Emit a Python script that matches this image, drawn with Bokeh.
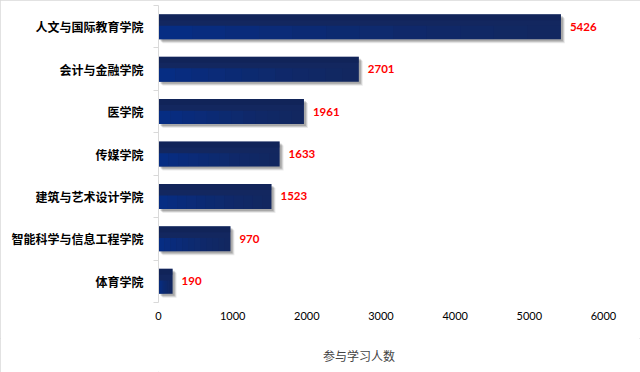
import numpy as np
from bokeh.plotting import figure
from bokeh.layouts import column
from bokeh.models import (ColumnDataSource, Range1d, FixedTicker, Legend, LegendItem, LinearAxis)
from bokeh.embed import file_html
from bokeh.resources import INLINE
from bokeh.core.properties import value

categories = ["人文与国际教育学院", "会计与金融学院", "医学院", "传媒学院",
              "建筑与艺术设计学院", "智能科学与信息工程学院", "体育学院"]
participants = [5426, 2701, 1961, 1633, 1523, 970, 190]
x_ticks = [0, 1000, 2000, 3000, 4000, 5000, 6000]
series_name = "参与学习人数"

n = len(categories)
ypos = [float(n - 1 - i) for i in range(n)]
vals = np.array(participants, dtype=float)
yarr = np.array(ypos)

FW, FH = 445, 297
xmax = x_ticks[-1]
px_x = xmax / FW
px_y = n / FH
bar_h = 0.59
BAR_COLOR = "#13275f"

p = figure(frame_width=FW, frame_height=FH, output_backend="svg", toolbar_location=None,
           x_range=Range1d(0, xmax), y_range=Range1d(-0.5, n - 0.5),
           min_border_left=158, min_border_right=37, min_border_top=5, min_border_bottom=36,
           y_axis_location=None)
p.outline_line_color = None
p.grid.visible = False
p.background_fill_color = "white"
p.border_fill_color = "white"

# shadow
for off, a in [(4, 0.08), (3, 0.14), (2, 0.16)]:
    p.hbar(y=yarr - off * px_y, left=off * px_x, right=vals + off * px_x, height=bar_h,
           fill_color="#000000", fill_alpha=a, line_color=None)

main = p.hbar(y=yarr, left=0, right=vals, height=bar_h, fill_color=BAR_COLOR, line_color=None)

# lower lighter band with horizontal fade
steps = 12
lefts, rights, bots, tops, alphas = [], [], [], [], []
for i in range(n):
    for k in range(steps):
        lefts.append(vals[i] * k / steps)
        rights.append(vals[i] * (k + 1) / steps)
        bots.append(yarr[i] - bar_h / 2)
        tops.append(yarr[i] + 0.02)
        alphas.append(0.75 * (1 - k / steps) ** 1.3)
band = ColumnDataSource(dict(left=lefts, right=rights, bottom=bots, top=tops, alpha=alphas))
p.quad(left="left", right="right", bottom="bottom", top="top", fill_alpha="alpha",
       fill_color="#03308f", line_color=None, source=band)
p.hbar(y=yarr + bar_h * 0.38, left=0, right=vals, height=bar_h * 0.24,
       fill_color="#0f1f4f", fill_alpha=0.35, line_color=None)

lab = ColumnDataSource(dict(x=vals, y=yarr, t=[str(v) for v in participants]))
p.text(x="x", y="y", text="t", source=lab, x_offset=9, text_align="left",
       text_baseline="middle", text_color="#ff0000", text_font=value("Lato"),
       text_font_size="11.5px", text_font_style="bold")

# y axis
yax = LinearAxis()
yax.ticker = FixedTicker(ticks=ypos, minor_ticks=[i - 0.5 for i in range(n + 1)])
yax.major_label_overrides = {y: c for y, c in zip(ypos, categories)}
yax.major_tick_out = 0
yax.major_tick_in = 0
yax.minor_tick_out = 5
yax.minor_tick_in = 0
yax.minor_tick_line_color = "#d9d9d9"
yax.axis_line_color = "#d9d9d9"
yax.major_label_standoff = 10
yax.major_label_text_font = "Noto Sans CJK SC"
yax.major_label_text_font_style = "bold"
yax.major_label_text_font_size = "12px"
yax.major_label_text_color = "#000000"
p.add_layout(yax, "left")

xax = p.xaxis[0]
xax.ticker = FixedTicker(ticks=x_ticks)
xax.axis_line_color = None
xax.major_tick_line_color = None
xax.minor_tick_line_color = None
xax.major_tick_out = 0
xax.major_tick_in = 0
xax.major_label_standoff = 9
xax.major_label_text_font = "Lato"
xax.major_label_text_font_size = "11px"
xax.major_label_text_color = "#000000"

# legend strip below the chart
LW, LH = 640, 34
q = figure(frame_width=LW, frame_height=LH, output_backend="svg", toolbar_location=None,
           x_range=Range1d(0, LW), y_range=Range1d(0, LH),
           min_border=0, x_axis_location=None, y_axis_location=None)
q.outline_line_color = None
q.grid.visible = False
q.background_fill_color = "white"
q.border_fill_color = "white"
proxy = q.hbar(y=[], left=[], right=[], height=1, fill_color=BAR_COLOR, line_color=None)
legend = Legend(items=[LegendItem(label=series_name, renderers=[proxy])],
                location=(312, 8), orientation="horizontal",
                glyph_width=7, glyph_height=7, label_text_font="Noto Sans CJK SC",
                label_text_font_size="12px", label_standoff=4, border_line_color=None,
                background_fill_alpha=0, label_height=14, padding=0, margin=0)
q.add_layout(legend, "center")

layout = column(p, q, spacing=0)
layout.styles = {"outline": "1px solid #d9d9d9", "outline-offset": "-1px"}

open("out.html", "w").write(file_html(layout, INLINE))
